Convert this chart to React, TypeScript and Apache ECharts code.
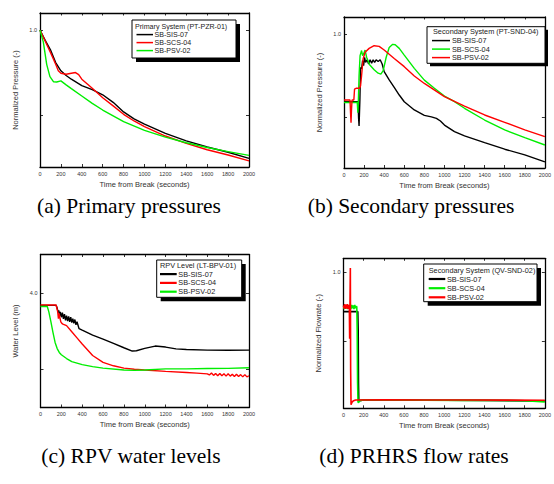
import React, { useEffect, useRef } from "react";
import * as echarts from "echarts";

// ---------- data ----------
const seriesNames = ["SB-SIS-07", "SB-SCS-04", "SB-PSV-02"];
const timeMin = 0;
const timeMax = 2000;
const timeStep = 200;

// (a) Primary system pressure (PT-PZR-01), normalized
const primarySIS07: [number, number][] = [
  [0, 1.0], [50, 0.94], [100, 0.885], [150, 0.81], [200, 0.762], [250, 0.735], [300, 0.713],
  [400, 0.676], [500, 0.652], [600, 0.622], [700, 0.578], [800, 0.522], [900, 0.481],
  [1000, 0.451], [1200, 0.397], [1400, 0.353], [1600, 0.317], [1800, 0.286], [2000, 0.25],
];
const primarySCS04: [number, number][] = [
  [0, 1.0], [50, 0.935], [100, 0.87], [150, 0.8], [175, 0.762], [200, 0.748], [250, 0.742],
  [300, 0.748], [340, 0.752], [370, 0.74], [400, 0.713], [500, 0.66], [600, 0.605],
  [700, 0.557], [800, 0.508], [900, 0.469], [1000, 0.436], [1200, 0.381], [1400, 0.338],
  [1600, 0.301], [1800, 0.27], [2000, 0.236],
];
const primaryPSV02: [number, number][] = [
  [0, 1.0], [32, 0.93], [64, 0.8], [95, 0.728], [130, 0.698], [160, 0.697], [200, 0.703],
  [250, 0.68], [300, 0.658], [400, 0.615], [500, 0.572], [600, 0.533], [800, 0.465],
  [1000, 0.414], [1200, 0.375], [1400, 0.342], [1600, 0.314], [1800, 0.29], [2000, 0.268],
];

// (b) Secondary system pressure (PT-SND-04), normalized
const secondarySIS07: [number, number][] = [
  [0, 0.595], [140, 0.595], [145, 0.5], [150, 0.45], [158, 0.6], [165, 0.8], [175, 0.79],
  [185, 0.84], [195, 0.81], [205, 0.86], [215, 0.83], [230, 0.845], [245, 0.82], [260, 0.845],
  [275, 0.825], [290, 0.845], [305, 0.83], [320, 0.845], [340, 0.835], [360, 0.845],
  [380, 0.82], [400, 0.774], [450, 0.725], [500, 0.681], [550, 0.635], [600, 0.595],
  [700, 0.546], [800, 0.514], [870, 0.505], [920, 0.496], [960, 0.48], [1000, 0.456],
  [1100, 0.417], [1200, 0.391], [1400, 0.351], [1600, 0.312], [1800, 0.278], [2000, 0.236],
];
const secondarySCS04: [number, number][] = [
  [0, 0.59], [132, 0.59], [138, 0.53], [143, 0.6], [150, 0.75], [160, 0.87], [175, 0.9],
  [185, 0.87], [195, 0.88], [210, 0.903], [225, 0.86], [255, 0.815], [300, 0.786],
  [340, 0.765], [367, 0.76], [390, 0.78], [420, 0.86], [450, 0.918], [485, 0.937],
  [510, 0.935], [550, 0.913], [600, 0.873], [700, 0.794], [800, 0.724], [900, 0.675],
  [1000, 0.629], [1100, 0.595], [1200, 0.556], [1400, 0.486], [1600, 0.427], [1800, 0.381],
  [2000, 0.337],
];
const secondaryPSV02: [number, number][] = [
  [0, 0.605], [60, 0.605], [65, 0.53], [70, 0.47], [75, 0.55], [80, 0.605], [98, 0.605],
  [105, 0.67], [120, 0.675], [155, 0.675], [165, 0.69], [175, 0.75], [190, 0.85],
  [210, 0.89], [250, 0.913], [300, 0.929], [350, 0.925], [400, 0.903], [500, 0.853],
  [600, 0.804], [700, 0.748], [800, 0.704], [1000, 0.625], [1200, 0.569], [1400, 0.516],
  [1600, 0.472], [1800, 0.427], [2000, 0.387],
];

// (c) RPV water level (LT-BPV-01), m
const levelSIS07: [number, number][] = [
  [0, 3.835], [150, 3.835], [160, 3.8], [170, 3.74], [175, 3.77], [185, 3.7], [190, 3.75],
  [200, 3.68], [210, 3.74], [220, 3.66], [230, 3.72], [240, 3.64], [250, 3.7], [260, 3.63],
  [270, 3.69], [280, 3.62], [290, 3.68], [300, 3.61], [310, 3.66], [320, 3.6], [330, 3.65],
  [340, 3.58], [350, 3.62], [370, 3.53], [400, 3.51], [500, 3.446], [600, 3.394],
  [700, 3.338], [800, 3.281], [880, 3.238], [920, 3.242], [1000, 3.272], [1100, 3.303],
  [1200, 3.29], [1300, 3.266], [1400, 3.258], [1600, 3.25], [1800, 3.248], [2000, 3.25],
];
const levelSCS04: [number, number][] = [
  [0, 3.84], [150, 3.84], [165, 3.75], [172, 3.66], [178, 3.73], [185, 3.68], [195, 3.62],
  [205, 3.6], [215, 3.59], [250, 3.57], [300, 3.49], [350, 3.41], [400, 3.33], [500, 3.18],
  [600, 3.09], [700, 3.045], [800, 3.015], [900, 3.0], [1000, 2.99], [1200, 2.972],
  [1400, 2.958], [1500, 2.95], [1600, 2.94], [1620, 2.925], [1640, 2.95], [1660, 2.92],
  [1680, 2.945], [1700, 2.915], [1720, 2.945], [1740, 2.915], [1760, 2.94], [1780, 2.91],
  [1800, 2.94], [1820, 2.91], [1840, 2.935], [1860, 2.905], [1880, 2.935], [1900, 2.905],
  [1920, 2.93], [1940, 2.9], [1960, 2.93], [1980, 2.9], [2000, 2.915],
];
const levelPSV02: [number, number][] = [
  [0, 3.82], [65, 3.82], [80, 3.75], [100, 3.62], [120, 3.48], [140, 3.35], [160, 3.27],
  [180, 3.22], [200, 3.19], [250, 3.14], [300, 3.1], [400, 3.06], [500, 3.035],
  [600, 3.015], [800, 2.99], [900, 2.985], [1000, 2.99], [1200, 3.005], [1400, 3.005],
  [1600, 3.01], [1800, 3.012], [2000, 3.02],
];

// (d) Secondary system flow rate (QV-SND-02), normalized
const flowSIS07: [number, number][] = [
  [0, 0.716], [142, 0.716], [146, 0.58], [149, 0.2], [152, 0.07], [160, 0.075],
  [200, 0.08], [600, 0.08], [1000, 0.078], [1400, 0.077], [2000, 0.073],
];
const flowSCS04: [number, number][] = [
  [0, 0.755], [8, 0.735], [16, 0.765], [24, 0.74], [32, 0.762], [40, 0.735], [48, 0.765],
  [56, 0.74], [64, 0.76], [72, 0.735], [80, 0.765], [88, 0.74], [96, 0.76], [104, 0.735],
  [112, 0.765], [120, 0.74], [128, 0.755], [132, 0.75], [136, 0.58], [140, 0.2],
  [144, 0.065], [150, 0.06], [160, 0.075], [200, 0.08], [400, 0.08], [800, 0.078],
  [1200, 0.077], [1600, 0.076], [1800, 0.074], [2000, 0.065],
];
const flowPSV02: [number, number][] = [
  [0, 0.76], [6, 0.74], [12, 0.77], [18, 0.735], [24, 0.765], [30, 0.74], [36, 0.77],
  [42, 0.735], [48, 0.765], [54, 0.74], [58, 0.75], [61, 0.52], [64, 0.75], [68, 1.03],
  [71, 0.3], [75, 0.045], [85, 0.065], [100, 0.075], [120, 0.08], [400, 0.082],
  [800, 0.08], [1200, 0.08], [1600, 0.079], [2000, 0.078],
];

const captions = [
  "(a) Primary pressures",
  "(b) Secondary pressures",
  "(c) RPV water levels",
  "(d) PRHRS flow rates",
];
const legendTitles = [
  "Primary System (PT-PZR-01)",
  "Secondary System (PT-SND-04)",
  "RPV Level (LT-BPV-01)",
  "Secondary System (QV-SND-02)",
];
const yNames = [
  "Normalized Pressure (-)",
  "Normalized Pressure (-)",
  "Water Level (m)",
  "Normalized Flowrate (-)",
];
const yRanges: [number, number][] = [[0.2, 1.1], [0.2, 1.1], [2.5, 4.5], [0.02, 1.1]];
const yTickValues: number[][] = [[0.5, 1.0], [0.5, 1.0], [3.0, 4.0], [0.5, 1.0]];
const yLabelValues: number[][] = [[1.0], [1.0], [4.0], [1.0]];

// ---------- styling / layout ----------
const BLACK = "#000000";
const RED = "#ff0000";
const GREEN = "#00ee00";
const SANS = "'Liberation Sans', Arial, sans-serif";
const SERIF = "'Liberation Serif', 'Times New Roman', serif";
const TEXT = "#333333";

const panelData = [
  [primarySIS07, primarySCS04, primaryPSV02],
  [secondarySIS07, secondarySCS04, secondaryPSV02],
  [levelSIS07, levelSCS04, levelPSV02],
  [flowSIS07, flowSCS04, flowPSV02],
];
const panelColors = [
  [BLACK, RED, GREEN],
  [BLACK, GREEN, RED],
  [BLACK, RED, GREEN],
  [BLACK, GREEN, RED],
];
const grids = [
  { left: 40, top: 13, width: 209, height: 154 },
  { left: 344, top: 17, width: 204, height: 151 },
  { left: 40.5, top: 254.5, width: 208.5, height: 153 },
  { left: 343.5, top: 258.3, width: 205, height: 150 },
];
const legendBoxes = [
  { x: 132, y: 20, w: 104, h: 38, tx: 135, ty: 26.6, ey: [34.6, 42.6, 50.6], lx: 136.5, lw: 16.5, txt: 154.5, shadow: 4, lineW: 1.5, fs: 7.1 },
  { x: 427, y: 26.7, w: 118, h: 36.6, tx: 433, ty: 31.9, ey: [40.6, 49.1, 57.6], lx: 432, lw: 18, txt: 452, shadow: 3, lineW: 1.5, fs: 7.3 },
  { x: 156.7, y: 260, w: 85, h: 37.3, tx: 160, ty: 265.2, ey: [274.1, 282.9, 291.7], lx: 160, lw: 16.7, txt: 178.3, shadow: 4, lineW: 2.2, fs: 7.3 },
  { x: 423.7, y: 264, w: 113.3, h: 37.7, tx: 428.7, ty: 270, ey: [279, 288.2, 297.3], lx: 428.7, lw: 16.6, txt: 447, shadow: 4, lineW: 2.2, fs: 7.3 },
];
const captionPos = [
  { x: 129, y: 205.5 },
  { x: 411, y: 205.5 },
  { x: 131, y: 455.5 },
  { x: 414, y: 455.5 },
];

function buildOption() {
  const xAxes: any[] = [];
  const yAxes: any[] = [];
  const series: any[] = [];
  const graphic: any[] = [];

  grids.forEach((g, i) => {
    const common = {
      gridIndex: i,
      type: "value",
      min: timeMin,
      max: timeMax,
      interval: timeStep,
      splitLine: { show: false },
    };
    xAxes.push({
      ...common,
      position: "bottom",
      name: "Time from Break (seconds)",
      nameLocation: "middle",
      nameGap: 13,
      nameTextStyle: { fontFamily: SANS, fontSize: 7.5, color: TEXT },
      axisLine: { show: true, onZero: false, lineStyle: { color: BLACK, width: 1.3 } },
      axisTick: { show: true, inside: true, length: 3, lineStyle: { color: BLACK, width: 0.8 } },
      axisLabel: {
        show: true, fontFamily: SANS, fontSize: 5.5, color: TEXT, margin: 3.5,
        interval: 0, hideOverlap: false, showMinLabel: true, showMaxLabel: true,
        formatter: (v: number) => String(v),
      },
    });
    xAxes.push({
      ...common,
      position: "top",
      axisLine: { show: true, onZero: false, lineStyle: { color: BLACK, width: 1.3 } },
      axisTick: { show: true, inside: true, length: 2.5, lineStyle: { color: BLACK, width: 0.8 } },
      axisLabel: { show: false },
    });
    const yCommon = {
      gridIndex: i,
      type: "value",
      min: yRanges[i][0],
      max: yRanges[i][1],
      splitLine: { show: false },
    };
    yAxes.push({
      ...yCommon,
      position: "left",
      name: yNames[i],
      nameLocation: "middle",
      nameGap: 21,
      nameTextStyle: { fontFamily: SANS, fontSize: 7.5, color: TEXT },
      axisLine: { show: true, onZero: false, lineStyle: { color: BLACK, width: 1.3 } },
      axisTick: { show: true, inside: true, length: 3, customValues: yTickValues[i], lineStyle: { color: BLACK, width: 0.8 } },
      axisLabel: {
        show: true, fontFamily: SANS, fontSize: 5.5, color: TEXT, margin: 3,
        customValues: yLabelValues[i], formatter: (v: number) => v.toFixed(1),
      },
    });
    yAxes.push({
      ...yCommon,
      position: "right",
      axisLine: { show: true, onZero: false, lineStyle: { color: BLACK, width: 1.3 } },
      axisTick: { show: true, inside: true, length: 3, customValues: yTickValues[i], lineStyle: { color: BLACK, width: 0.8 } },
      axisLabel: { show: false },
    });

    panelData[i].forEach((d, k) => {
      series.push({
        type: "line",
        name: seriesNames[k],
        xAxisIndex: 2 * i,
        yAxisIndex: 2 * i,
        data: d,
        symbol: "none",
        showSymbol: false,
        animation: false,
        lineStyle: { color: panelColors[i][k], width: i === 3 ? 1.6 : 1.4 },
        itemStyle: { color: panelColors[i][k] },
        z: 2 + k,
      });
    });

    // legend box
    const L = legendBoxes[i];
    graphic.push({
      type: "rect", silent: true, z: 10,
      shape: { x: L.x + L.shadow, y: L.y + L.shadow, width: L.w, height: L.h },
      style: { fill: BLACK },
    });
    graphic.push({
      type: "rect", silent: true, z: 11,
      shape: { x: L.x, y: L.y, width: L.w, height: L.h },
      style: { fill: "#ffffff", stroke: BLACK, lineWidth: 1 },
    });
    graphic.push({
      type: "text", silent: true, z: 12, x: L.tx, y: L.ty,
      style: { text: legendTitles[i], fill: "#222", font: `${L.fs}px ${SANS}`, textAlign: "left", textVerticalAlign: "middle" },
    });
    seriesNames.forEach((nm, k) => {
      graphic.push({
        type: "line", silent: true, z: 12,
        shape: { x1: L.lx, y1: L.ey[k], x2: L.lx + L.lw, y2: L.ey[k] },
        style: { stroke: panelColors[i][k], lineWidth: L.lineW },
      });
      graphic.push({
        type: "text", silent: true, z: 12, x: L.txt, y: L.ey[k],
        style: { text: nm, fill: "#222", font: `${L.fs}px ${SANS}`, textAlign: "left", textVerticalAlign: "middle" },
      });
    });

    graphic.push({
      type: "text", silent: true, z: 12, x: captionPos[i].x, y: captionPos[i].y,
      style: { text: captions[i], fill: "#000", font: `21.5px ${SERIF}`, textAlign: "center", textVerticalAlign: "middle" },
    });
  });

  return {
    animation: false,
    backgroundColor: "#ffffff",
    grid: grids.map((g) => ({ ...g, containLabel: false, show: false })),
    xAxis: xAxes,
    yAxis: yAxes,
    series,
    graphic,
  };
}

export default function App() {
  const ref = useRef<HTMLDivElement>(null);
  useEffect(() => {
    if (!ref.current) return;
    const chart = echarts.init(ref.current, null, { renderer: "svg" });
    chart.setOption(buildOption() as any);
    return () => chart.dispose();
  }, []);
  return (
    <div
      ref={ref}
      style={{ position: "fixed", left: 0, top: 0, width: 554, height: 484, background: "#fff" }}
    />
  );
}
